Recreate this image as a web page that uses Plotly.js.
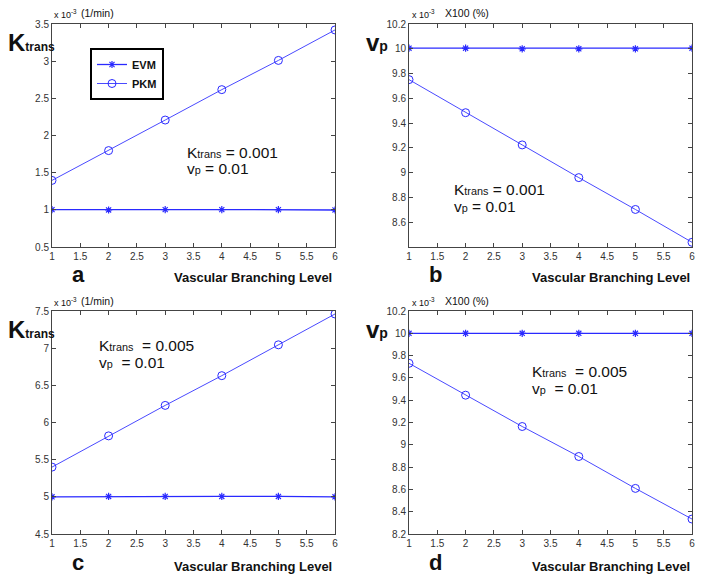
<!DOCTYPE html>
<html>
<head>
<meta charset="utf-8">
<script src="https://cdn.plot.ly/plotly-3.0.1.min.js"></script>
<style>html,body{margin:0;padding:0;background:#fff;}#chart{width:704px;height:577px;}</style>
</head>
<body>
<div id="chart"></div>
<script>
// ---- data ----
const levels = [1, 2, 3, 4, 5, 6];
const xTicks = [1, 1.5, 2, 2.5, 3, 3.5, 4, 4.5, 5, 5.5, 6];
const seriesNames = ['EVM', 'PKM'];

// panel a: Ktrans (x1e-3), true Ktrans = 0.001
const aEVM = [1.003, 0.998, 1.003, 1.003, 1.003, 0.998];
const aPKM = [1.396, 1.797, 2.208, 2.617, 3.01, 3.42];
const aTicks = [0.5, 1, 1.5, 2, 2.5, 3, 3.5];

// panel b: vp (x1e-3 x100 %), true Ktrans = 0.001
const bEVM = [10.005, 10.005, 10.0, 10.0, 10.0, 10.005];
const bPKM = [9.751, 9.484, 9.224, 8.96, 8.703, 8.438];
const bTicks = [8.6, 8.8, 9, 9.2, 9.4, 9.6, 9.8, 10, 10.2];

// panel c: Ktrans (x1e-3), true Ktrans = 0.005
const cEVM = [5.0, 5.005, 5.005, 5.005, 5.005, 5.0];
const cPKM = [5.40, 5.82, 6.23, 6.63, 7.045, 7.46];
const cTicks = [4.5, 5, 5.5, 6, 6.5, 7, 7.5];

// panel d: vp (x1e-3 x100 %), true Ktrans = 0.005
const dEVM = [10.0, 10.0, 10.0, 10.0, 10.0, 10.0];
const dPKM = [9.731, 9.445, 9.164, 8.895, 8.609, 8.334];
const dTicks = [8.2, 8.4, 8.6, 8.8, 9, 9.2, 9.4, 9.6, 9.8, 10, 10.2];

// ---- layout helpers ----
const W = 704, H = 577;
const px = x => x / W;
const py = y => 1 - y / H;
const blue = '#2a2aff';
const tickFont = {family: 'Liberation Sans, Arial, sans-serif', size: 10, color: '#333'};

function evmTrace(y, xa, ya, show) {
  return {x: levels, y: y, xaxis: xa, yaxis: ya, name: seriesNames[0], type: 'scatter',
    mode: 'lines+markers', showlegend: show,
    line: {color: blue, width: 1.3},
    marker: {symbol: 'asterisk-open', size: 6, color: blue, line: {color: blue, width: 1.2}}};
}
function pkmTrace(y, xa, ya, show) {
  return {x: levels, y: y, xaxis: xa, yaxis: ya, name: seriesNames[1], type: 'scatter',
    mode: 'lines+markers', showlegend: show,
    line: {color: '#4a4aff', width: 1},
    marker: {symbol: 'circle-open', size: 8, color: blue, line: {color: blue, width: 1}}};
}

const data = [
  evmTrace(aEVM, 'x', 'y', true), pkmTrace(aPKM, 'x', 'y', true),
  evmTrace(bEVM, 'x2', 'y2', false), pkmTrace(bPKM, 'x2', 'y2', false),
  evmTrace(cEVM, 'x3', 'y3', false), pkmTrace(cPKM, 'x3', 'y3', false),
  evmTrace(dEVM, 'x4', 'y4', false), pkmTrace(dPKM, 'x4', 'y4', false)
];

function xAxis(domain, anchor) {
  return {domain: domain, anchor: anchor, range: [1, 6], tickvals: xTicks,
    ticktext: xTicks.map(String), ticks: 'inside', ticklen: 4, tickcolor: '#444',
    showline: true, linecolor: '#444', linewidth: 1, mirror: 'ticks', showgrid: false,
    zeroline: false, tickfont: tickFont};
}
function yAxis(domain, anchor, range, ticks) {
  return {domain: domain, anchor: anchor, range: range, tickvals: ticks,
    ticktext: ticks.map(String), ticks: 'inside', ticklen: 4, tickcolor: '#444',
    showline: true, linecolor: '#444', linewidth: 1, mirror: 'ticks', showgrid: false,
    zeroline: false, tickfont: tickFont};
}

const colL = [px(52), px(335)], colR = [px(409), px(692)];
const rowT = [py(247), py(24)], rowB = [py(534), py(311)];

const ann = [];
function txt(x, y, text, size, bold, xanchor, extra) {
  ann.push(Object.assign({xref: 'paper', yref: 'paper', x: px(x), y: py(y), text: text,
    showarrow: false, xanchor: xanchor || 'left', yanchor: 'middle',
    font: {family: 'Liberation Sans, Arial, sans-serif', size: size, color: '#111',
      weight: bold ? 'bold' : 'normal'}}, extra || {}));
}
function panelText(ox, oy, yLabel, unit, letter, param) {
  // ox, oy: offsets of the panel
  txt(ox + 52, oy + 14, 'x 10<sup>-3</sup>', 9, false, 'left');
  txt(ox + (unit === '(1/min)' ? 79 : 85), oy + 13, unit, 10.5, false, 'left');
  txt(ox + 6, oy + 42, yLabel, 22, true, 'left');
  txt(ox + 78, oy + 274, letter, 22, true, 'center');
  txt(ox + 334, oy + 278, 'Vascular Branching Level', 13, true, 'right');
  txt(param[0], param[1], param[2], 15.5, false, 'left');
  txt(param[0], param[1] + 17, param[3], 15.5, false, 'left');
}
const K = 'K<span style="font-size:70%">trans</span>';
const KB = '<span style="font-size:24px">K</span><span style="font-size:12px">trans</span>';
const VB = '<span style="font-size:24px">v</span><span style="font-size:14px">p</span>';
const vp = 'v<span style="font-size:70%">p</span>';

panelText(0, 0, KB, '(1/min)', 'a', [185, 152, K + ' = 0.001', vp + ' = 0.01']);
panelText(358, 0, VB, 'X100 (%)', 'b', [452, 189, K + ' = 0.001', vp + ' = 0.01']);
panelText(0, 288, KB, '(1/min)', 'c', [97, 345, K + '  = 0.005', vp + '  = 0.01']);
panelText(358, 288, VB, 'X100 (%)', 'd', [530, 371, K + '  = 0.005', vp + '  = 0.01']);

const layout = {
  width: W, height: H, margin: {l: 0, r: 0, t: 0, b: 0},
  paper_bgcolor: '#fff', plot_bgcolor: '#fff', hovermode: false,
  xaxis: xAxis(colL, 'y'), yaxis: yAxis(rowT, 'x', [0.5, 3.5], aTicks),
  xaxis2: xAxis(colR, 'y2'), yaxis2: yAxis(rowT, 'x2', [8.4, 10.2], bTicks),
  xaxis3: xAxis(colL, 'y3'), yaxis3: yAxis(rowB, 'x3', [4.5, 7.5], cTicks),
  xaxis4: xAxis(colR, 'y4'), yaxis4: yAxis(rowB, 'x4', [8.2, 10.2], dTicks),
  showlegend: true,
  legend: {x: px(90), y: py(48), xanchor: 'left', yanchor: 'top', bgcolor: '#fff',
    bordercolor: '#000', borderwidth: 2, itemwidth: 30, tracegroupgap: 0,
    font: {family: 'Liberation Sans, Arial, sans-serif', size: 11, color: '#111', weight: 'bold'}},
  annotations: ann
};

Plotly.newPlot('chart', data, layout, {displayModeBar: false, staticPlot: true});
</script>
</body>
</html>
